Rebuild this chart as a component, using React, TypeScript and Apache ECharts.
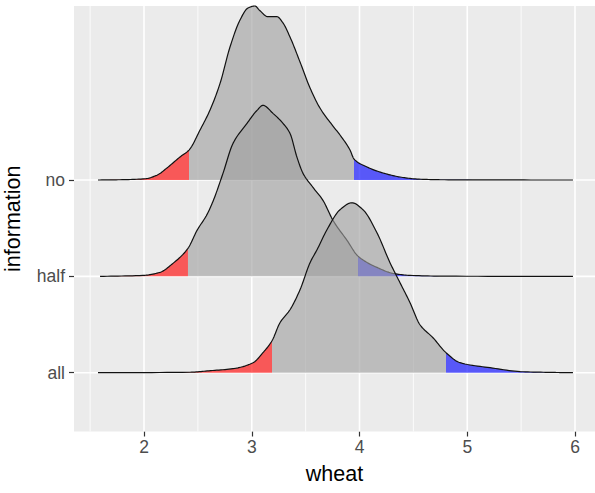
import React, { useEffect, useRef } from 'react';
import * as echarts from 'echarts';

// ---- data ----
const categories = ['all', 'half', 'no'];
const categoryPositions = [1, 2, 3];
const xTickValues = [2, 3, 4, 5, 6];
const xMinorGrid = [1.5, 2.5, 3.5, 4.5, 5.5];

const noWheat = [1.573, 1.777, 2.009, 2.12, 2.213, 2.334, 2.418, 2.52, 2.613, 2.705, 2.798, 2.891, 2.965, 3.03, 3.07, 3.151, 3.234, 3.29, 3.355, 3.448, 3.541, 3.633, 3.754, 3.819, 3.912, 3.949, 4.07, 4.218, 4.376, 4.534, 4.75, 5.2, 5.981];
const noDensity = [0, 0.003, 0.013, 0.05, 0.125, 0.239, 0.311, 0.519, 0.727, 1.0, 1.38, 1.661, 1.785, 1.806, 1.764, 1.695, 1.695, 1.63, 1.484, 1.225, 0.955, 0.747, 0.56, 0.467, 0.311, 0.218, 0.135, 0.073, 0.031, 0.01, 0.003, 0.001, 0];

const halfWheat = [1.592, 1.991, 2.148, 2.269, 2.408, 2.492, 2.585, 2.64, 2.733, 2.826, 2.956, 3.049, 3.104, 3.197, 3.29, 3.355, 3.42, 3.476, 3.568, 3.661, 3.754, 3.884, 3.986, 4.162, 4.311, 4.469, 4.8, 5.981];
const halfDensity = [0, 0.01, 0.042, 0.135, 0.291, 0.477, 0.643, 0.778, 1.069, 1.38, 1.588, 1.723, 1.775, 1.692, 1.588, 1.484, 1.235, 1.069, 0.924, 0.789, 0.581, 0.374, 0.21, 0.093, 0.031, 0.01, 0.002, 0];

const allWheat = [1.573, 2.427, 2.6, 2.826, 3.012, 3.104, 3.188, 3.262, 3.355, 3.448, 3.541, 3.606, 3.698, 3.819, 3.93, 4.032, 4.162, 4.283, 4.376, 4.469, 4.561, 4.682, 4.803, 4.933, 5.211, 5.517, 5.8, 5.981];
const allDensity = [0, 0.005, 0.02, 0.042, 0.104, 0.208, 0.332, 0.519, 0.654, 0.861, 1.142, 1.277, 1.484, 1.692, 1.764, 1.692, 1.453, 1.142, 0.934, 0.727, 0.498, 0.363, 0.208, 0.104, 0.052, 0.01, 0.003, 0];

// 2.5% / 97.5% quantile cut points, per ridge (all, half, no)
const lowerQuantile = [3.188, 2.408, 2.418];
const upperQuantile = [4.803, 3.986, 3.949];

const ridgeWheat = [allWheat, halfWheat, noWheat];
const ridgeDensity = [allDensity, halfDensity, noDensity];

const X_MIN = 1.3503;
const X_MAX = 6.1856;
const Y_MIN = 0.39;
const Y_MAX = 4.806;

const FONT = '"Liberation Sans", Arial, Helvetica, sans-serif';

// monotone cubic rendering of the outline between read points
function smoothCurve(xs: number[], ys: number[], steps: number): number[][] {
  const n = xs.length;
  const d: number[] = [];
  const m: number[] = [];
  for (let i = 0; i < n - 1; i++) d.push((ys[i + 1] - ys[i]) / (xs[i + 1] - xs[i]));
  m[0] = d[0];
  m[n - 1] = d[n - 2];
  for (let i = 1; i < n - 1; i++) {
    if (d[i - 1] * d[i] <= 0) m[i] = 0;
    else {
      const h0 = xs[i] - xs[i - 1];
      const h1 = xs[i + 1] - xs[i];
      const w1 = 2 * h1 + h0;
      const w2 = h1 + 2 * h0;
      m[i] = (w1 + w2) / (w1 / d[i - 1] + w2 / d[i]);
    }
  }
  const out: number[][] = [];
  for (let i = 0; i < n - 1; i++) {
    const h = xs[i + 1] - xs[i];
    for (let s = 0; s < steps; s++) {
      const t = s / steps;
      const t2 = t * t;
      const t3 = t2 * t;
      const y =
        (2 * t3 - 3 * t2 + 1) * ys[i] +
        (t3 - 2 * t2 + t) * h * m[i] +
        (-2 * t3 + 3 * t2) * ys[i + 1] +
        (t3 - t2) * h * m[i + 1];
      out.push([xs[i] + t * h, Math.max(0, y)]);
    }
  }
  out.push([xs[n - 1], ys[n - 1]]);
  return out;
}

function heightAt(curve: number[][], x: number): number {
  for (let i = 0; i < curve.length - 1; i++) {
    const a = curve[i];
    const b = curve[i + 1];
    if (x >= a[0] && x <= b[0]) {
      const t = (x - a[0]) / (b[0] - a[0] || 1);
      return a[1] + t * (b[1] - a[1]);
    }
  }
  return 0;
}

function makeRidgeSeries(idx: number) {
  const base = categoryPositions[idx];
  const data = ridgeWheat[idx].map((x, j) => [x, ridgeDensity[idx][j], base]);
  return {
    type: 'custom',
    name: categories[idx],
    data,
    encode: { x: 0, y: 1 },
    silent: true,
    z: 2,
    renderItem: (params: any, api: any) => {
      if (params.dataIndexInside !== 0) return null;
      const n = params.dataInsideLength;
      const xs: number[] = [];
      const hs: number[] = [];
      const b = api.value(2, 0);
      for (let k = 0; k < n; k++) {
        xs.push(api.value(0, k));
        hs.push(api.value(1, k));
      }
      const curve = smoothCurve(xs, hs, 12);
      const region = (a: number, c: number) => {
        const pts: number[][] = [];
        pts.push(api.coord([a, b]));
        pts.push(api.coord([a, b + heightAt(curve, a)]));
        for (const p of curve) {
          if (p[0] > a && p[0] < c) pts.push(api.coord([p[0], b + p[1]]));
        }
        pts.push(api.coord([c, b + heightAt(curve, c)]));
        pts.push(api.coord([c, b]));
        return pts;
      };
      const lo = lowerQuantile[idx];
      const hi = upperQuantile[idx];
      const x0 = xs[0];
      const x1 = xs[n - 1];
      const line = curve.map((p) => api.coord([p[0], b + p[1]]));
      return {
        type: 'group',
        children: [
          { type: 'polygon', shape: { points: region(x0, lo) }, style: { fill: 'rgba(255,0,0,0.627)', stroke: 'none' } },
          { type: 'polygon', shape: { points: region(lo, hi) }, style: { fill: 'rgba(160,160,160,0.627)', stroke: 'none' } },
          { type: 'polygon', shape: { points: region(hi, x1) }, style: { fill: 'rgba(0,0,255,0.627)', stroke: 'none' } },
          { type: 'polyline', shape: { points: line }, style: { fill: 'none', stroke: '#111111', lineWidth: 1.2, lineJoin: 'round' } },
        ],
      };
    },
  };
}

function vGridSeries(values: number[], width: number) {
  return {
    type: 'custom',
    data: values.map((v) => [v, Y_MIN]),
    encode: { x: 0, y: 1 },
    silent: true,
    z: 1,
    renderItem: (_p: any, api: any) => {
      const x = api.value(0);
      const a = api.coord([x, Y_MIN]);
      const c = api.coord([x, Y_MAX]);
      return { type: 'line', shape: { x1: a[0], y1: a[1], x2: c[0], y2: c[1] }, style: { stroke: '#ffffff', lineWidth: width } };
    },
  };
}

function hGridSeries(values: number[], width: number) {
  return {
    type: 'custom',
    data: values.map((v) => [X_MIN, v]),
    encode: { x: 0, y: 1 },
    silent: true,
    z: 1,
    renderItem: (_p: any, api: any) => {
      const y = api.value(1);
      const a = api.coord([X_MIN, y]);
      const c = api.coord([X_MAX, y]);
      return { type: 'line', shape: { x1: a[0], y1: a[1], x2: c[0], y2: c[1] }, style: { stroke: '#ffffff', lineWidth: width } };
    },
  };
}

export default function App() {
  const ref = useRef<HTMLDivElement>(null);
  useEffect(() => {
    if (!ref.current) return;
    const chart = echarts.init(ref.current, undefined, { renderer: 'svg' });
    chart.setOption({
      animation: false,
      backgroundColor: '#ffffff',
      grid: {
        left: 74,
        right: 0,
        top: 6,
        bottom: 61.5,
        show: true,
        backgroundColor: '#EBEBEB',
        borderWidth: 0,
        containLabel: false,
        outerBoundsMode: 'none',
      },
      xAxis: {
        type: 'value',
        min: X_MIN,
        max: X_MAX,
        name: 'wheat',
        nameLocation: 'middle',
        nameGap: 31,
        nameTextStyle: { fontSize: 21.5, color: '#000000', fontFamily: FONT },
        axisLine: { show: false },
        splitLine: { show: false },
        axisTick: { show: true, customValues: xTickValues, length: 5, lineStyle: { color: '#333333', width: 1.2 } },
        axisLabel: { customValues: xTickValues, fontSize: 17.5, color: '#4D4D4D', fontFamily: FONT, margin: 6 },
      },
      yAxis: {
        type: 'value',
        min: Y_MIN,
        max: Y_MAX,
        name: 'information',
        nameLocation: 'middle',
        nameGap: 50,
        nameTextStyle: { fontSize: 21.5, color: '#000000', fontFamily: FONT },
        axisLine: { show: false },
        splitLine: { show: false },
        axisTick: { show: true, customValues: categoryPositions, length: 5, lineStyle: { color: '#333333', width: 1.2 } },
        axisLabel: {
          customValues: categoryPositions,
          fontSize: 17.5,
          color: '#4D4D4D',
          fontFamily: FONT,
          margin: 9,
          formatter: (v: number) => categories[Math.round(v) - 1] ?? '',
        },
      },
      series: [
        vGridSeries(xMinorGrid, 0.8),
        vGridSeries(xTickValues, 1.6),
        hGridSeries(categoryPositions, 1.6),
        makeRidgeSeries(2),
        makeRidgeSeries(1),
        makeRidgeSeries(0),
      ],
    });
    return () => chart.dispose();
  }, []);
  return (
    <div
      ref={ref}
      style={{ position: 'absolute', left: 0, top: 0, width: 595, height: 493 }}
    />
  );
}
